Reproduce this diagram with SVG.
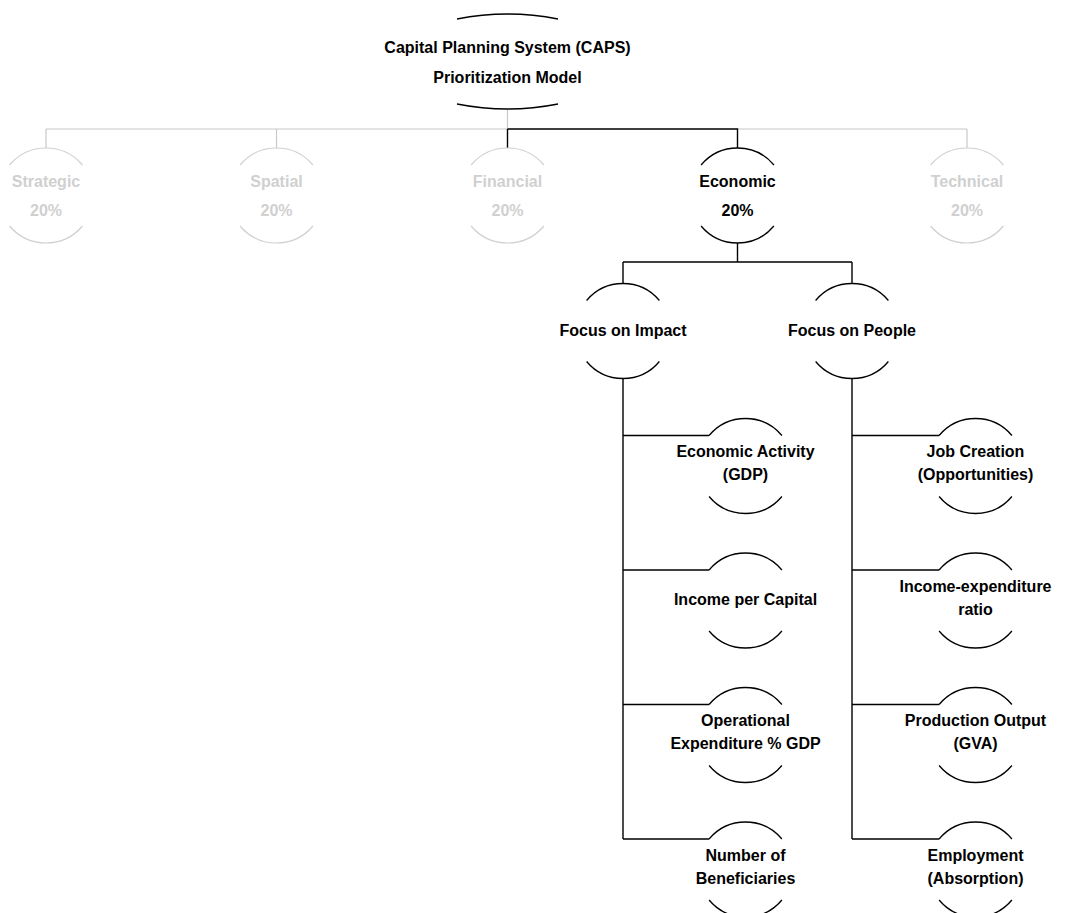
<svg xmlns="http://www.w3.org/2000/svg" xmlns:xlink="http://www.w3.org/1999/xlink" width="1067" height="913" viewBox="0 0 1067 913">
<style>
text{font-family:"Liberation Sans",Arial,sans-serif;font-weight:bold;font-size:16px;text-anchor:middle}
.dark text{fill:#000}
.dim text{fill:#d0d0d0}
.dark use,.dark .cap{stroke:#000;stroke-width:1.3;fill:none}
.dim use{stroke:#d0d0d0;stroke-width:1.2;fill:none}
.cg{stroke:#c8c8c8;stroke-width:1.2;fill:none}
.ck{stroke:#000;stroke-width:1.4;fill:none}
</style>
<defs>
<path id="arcs" d="M-36.4,-30.5 A47.5,47.5 0 0 1 36.4,-30.5 M-36.4,30.5 A47.5,47.5 0 0 0 36.4,30.5"/>
</defs>
<rect width="1067" height="913" fill="#fff"/>
<g id="connectors">
<path class="cg" d="M507.5,110 V129 M46,129 H507.5 M737.5,129 H967 M46,129 V148 M276.5,129 V148 M967,129 V148"/>
<path class="ck" d="M507.5,129 V148 M507.5,129 H737.5 V148 M737.5,243 V262 M623,262 H852 M623,262 V283.5 M852,262 V283.5"/>
<path class="ck" d="M623,378.5 V839 M623,435.5 H709.1 M623,570 H709.1 M623,704.5 H709.1 M623,839 H709.1"/>
<path class="ck" d="M852,378.5 V839 M852,435.5 H939.1 M852,570 H939.1 M852,704.5 H939.1 M852,839 H939.1"/>
</g>
<g id="root" class="dark">
<path class="cap" d="M457,19 Q507.5,9 558,19 M457,104 Q507.5,114 558,104"/>
<text x="507.5" y="53">Capital Planning System (CAPS)</text>
<text x="507.5" y="83">Prioritization Model</text>
</g>
<g id="strategic" class="dim"><use xlink:href="#arcs" x="46" y="195.5"/><text x="46" y="187">Strategic</text><text x="46" y="216">20%</text></g>
<g id="spatial" class="dim"><use xlink:href="#arcs" x="276.5" y="195.5"/><text x="276.5" y="187">Spatial</text><text x="276.5" y="216">20%</text></g>
<g id="financial" class="dim"><use xlink:href="#arcs" x="507.5" y="195.5"/><text x="507.5" y="187">Financial</text><text x="507.5" y="216">20%</text></g>
<g id="economic" class="dark"><use xlink:href="#arcs" x="737.5" y="195.5"/><text x="737.5" y="187">Economic</text><text x="737.5" y="216">20%</text></g>
<g id="technical" class="dim"><use xlink:href="#arcs" x="967" y="195.5"/><text x="967" y="187">Technical</text><text x="967" y="216">20%</text></g>
<g id="focus-impact" class="dark"><use xlink:href="#arcs" x="623" y="331"/><text x="623" y="336">Focus on Impact</text></g>
<g id="focus-people" class="dark"><use xlink:href="#arcs" x="852" y="331"/><text x="852" y="336">Focus on People</text></g>
<g id="gdp" class="dark"><use xlink:href="#arcs" x="745.5" y="466"/><text x="745.5" y="457">Economic Activity</text><text x="745.5" y="480">(GDP)</text></g>
<g id="income-capita" class="dark"><use xlink:href="#arcs" x="745.5" y="600.5"/><text x="745.5" y="604.5">Income per Capital</text></g>
<g id="opex" class="dark"><use xlink:href="#arcs" x="745.5" y="735"/><text x="745.5" y="726">Operational</text><text x="745.5" y="749">Expenditure % GDP</text></g>
<g id="beneficiaries" class="dark"><use xlink:href="#arcs" x="745.5" y="869.5"/><text x="745.5" y="860.5">Number of</text><text x="745.5" y="883.5">Beneficiaries</text></g>
<g id="jobs" class="dark"><use xlink:href="#arcs" x="975.5" y="466"/><text x="975.5" y="457">Job Creation</text><text x="975.5" y="480">(Opportunities)</text></g>
<g id="income-exp" class="dark"><use xlink:href="#arcs" x="975.5" y="600.5"/><text x="975.5" y="591.5">Income-expenditure</text><text x="975.5" y="614.5">ratio</text></g>
<g id="gva" class="dark"><use xlink:href="#arcs" x="975.5" y="735"/><text x="975.5" y="726">Production Output</text><text x="975.5" y="749">(GVA)</text></g>
<g id="employment" class="dark"><use xlink:href="#arcs" x="975.5" y="869.5"/><text x="975.5" y="860.5">Employment</text><text x="975.5" y="883.5">(Absorption)</text></g>
</svg>
